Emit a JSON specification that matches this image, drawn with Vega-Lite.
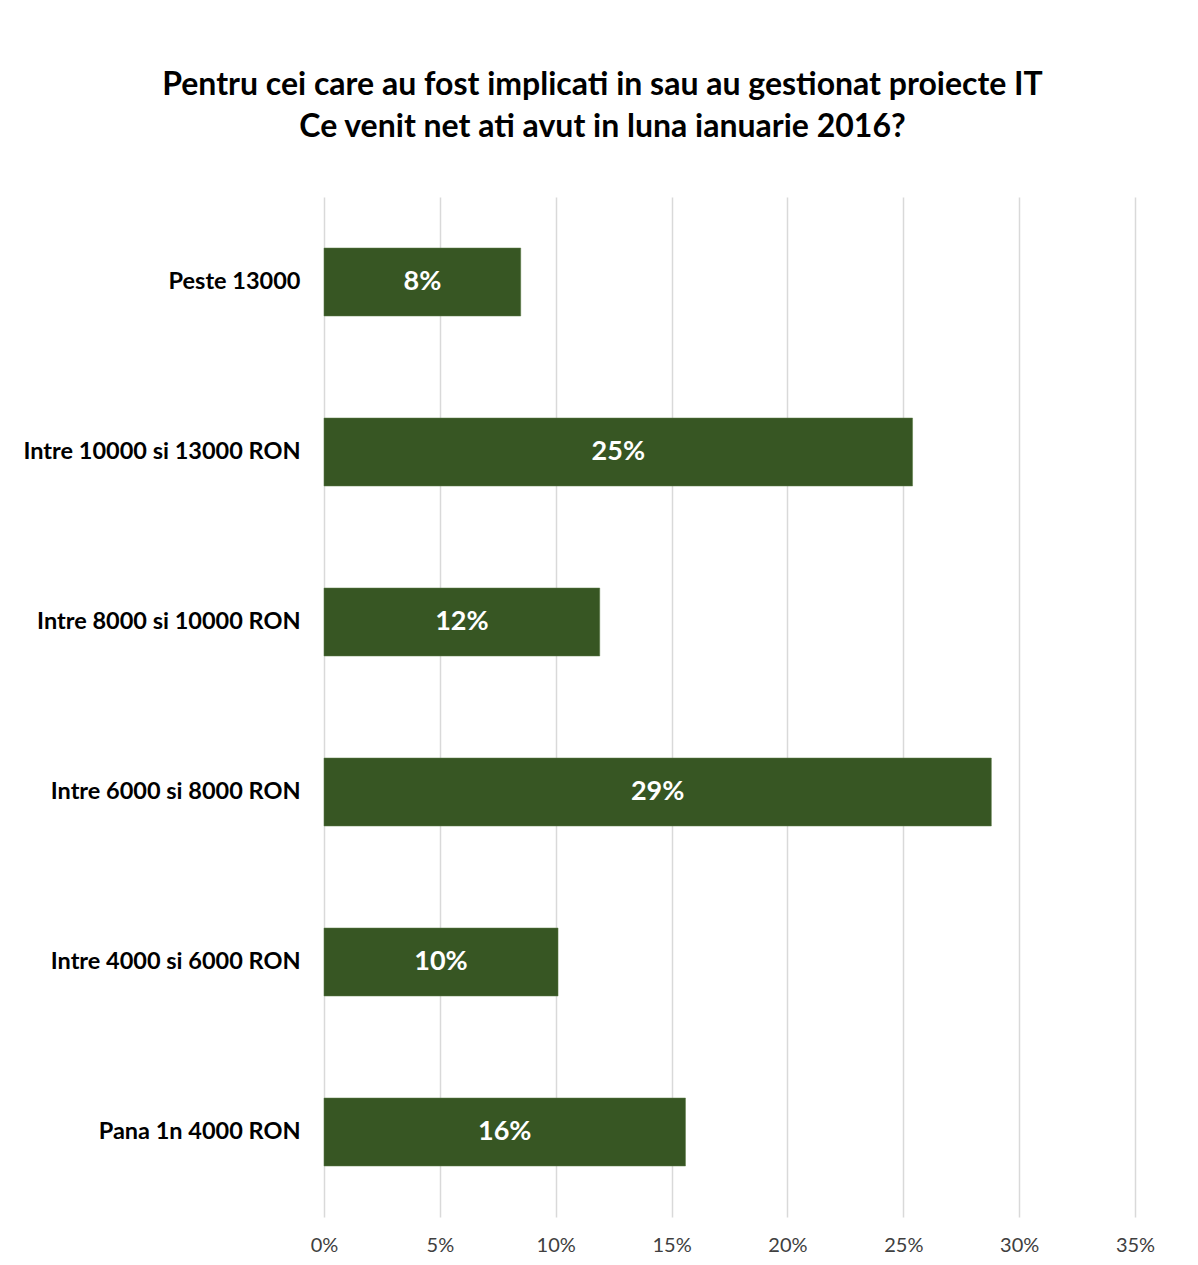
{
  "$schema": "https://vega.github.io/schema/vega-lite/v6.json",
  "width": 811,
  "height": 1020,
  "autosize": {"type": "none"},
  "padding": {"left": 324, "top": 197, "right": 63, "bottom": 48},
  "background": "white",
  "config": {"view": {"stroke": null}, "font": "Lato"},
  "title": {
    "text": ["Pentru cei care au fost implicati in sau au gestionat proiecte IT", "Ce venit net ati avut in luna ianuarie  2016?"],
    "fontSize": 32,
    "fontWeight": "bold",
    "font": "Lato",
    "color": "#000000",
    "anchor": "middle",
    "frame": "group",
    "dx": -127,
    "offset": 53,
    "lineHeight": 42
  },
  "data": {
    "values": [
      {"categorie": "Peste 13000", "procent": 0.0849},
      {"categorie": "Intre 10000 si 13000 RON", "procent": 0.254},
      {"categorie": "Intre 8000 si 10000 RON", "procent": 0.119},
      {"categorie": "Intre 6000 si 8000 RON", "procent": 0.288},
      {"categorie": "Intre 4000 si 6000 RON", "procent": 0.101},
      {"categorie": "Pana 1n 4000 RON", "procent": 0.156}
    ]
  },
  "encoding": {
    "y": {
      "field": "categorie",
      "type": "nominal",
      "sort": null,
      "scale": {"paddingInner": 0.6, "paddingOuter": 0.3},
      "axis": {
        "title": null,
        "domain": false,
        "ticks": false,
        "labelFontSize": 23.5,
        "labelFontWeight": "bold",
        "labelColor": "#000000",
        "labelPadding": 24,
        "labelLimit": 400,
        "labelFont": "Lato"
      }
    },
    "x": {
      "field": "procent",
      "type": "quantitative",
      "scale": {"domain": [0, 0.35], "nice": false},
      "axis": {
        "title": null,
        "values": [0, 0.05, 0.1, 0.15, 0.2, 0.25, 0.3, 0.35],
        "format": ".0%",
        "domain": false,
        "ticks": false,
        "grid": true,
        "gridColor": "#d9d9d9",
        "gridWidth": 1.5,
        "labelFontSize": 20,
        "labelColor": "#404040",
        "labelPadding": 18,
        "labelFlush": false,
        "labelFont": "Lato"
      }
    }
  },
  "layer": [
    {"mark": {"type": "bar", "color": "#375623", "stroke": "#5a7a45", "strokeWidth": 0.5}},
    {
      "transform": [{"calculate": "datum.procent / 2", "as": "mijloc"}],
      "mark": {"type": "text", "color": "white", "fontWeight": "bold", "fontSize": 27, "font": "Lato", "baseline": "middle", "align": "center"},
      "encoding": {
        "x": {"field": "mijloc", "type": "quantitative"},
        "text": {"field": "procent", "type": "quantitative", "format": ".0%"}
      }
    }
  ]
}
